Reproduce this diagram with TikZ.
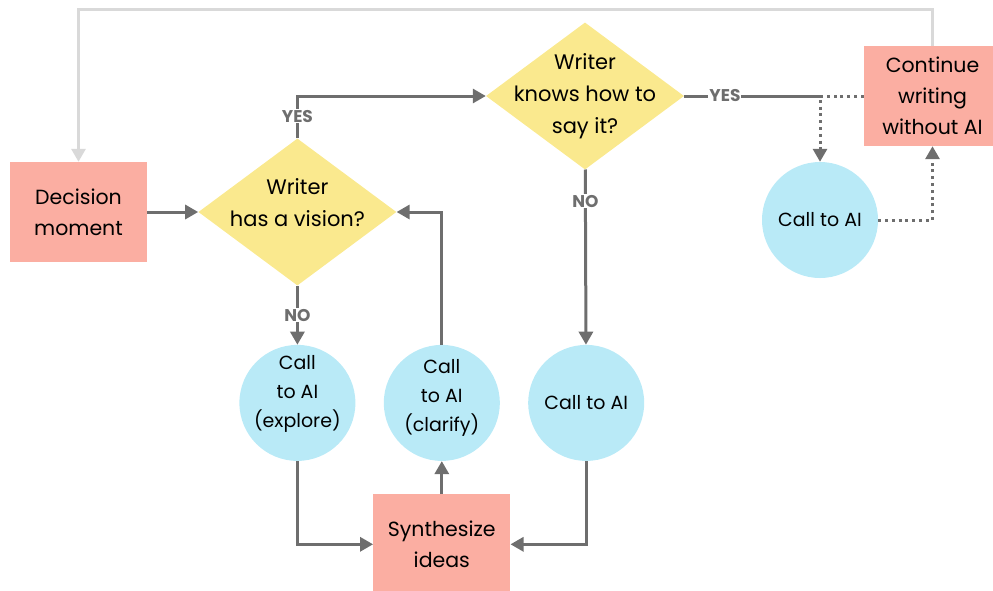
\documentclass[tikz,border=0pt]{standalone}
\usepackage{fontspec}
\setmainfont{Poppins}
\usetikzlibrary{positioning}
\usetikzlibrary{shapes.geometric}
\usetikzlibrary{arrows.meta}

\definecolor{boxred}{HTML}{FBAEA2}
\definecolor{askyellow}{HTML}{FAE98E}
\definecolor{callblue}{HTML}{B9EAF7}
\definecolor{linegray}{HTML}{6E6E6E}
\definecolor{loopgray}{HTML}{D9D9D9}

\begin{document}
\begin{tikzpicture}[node distance=28pt,
			box/.style={rectangle,fill=boxred,align=center,inner sep=0pt,minimum width=137pt,minimum height=100pt,font=\fontsize{20.5}{31}\selectfont},
			ask/.style={diamond,fill=askyellow,align=center,inner sep=-25pt,minimum width=198pt,minimum height=147pt,font=\fontsize{21}{32}\selectfont},
			call/.style={circle,fill=callblue,align=center,inner sep=-6pt,minimum size=116pt,font=\fontsize{19}{29}\selectfont},
			flow/.style={draw=linegray,line width=3pt,-{Triangle[length=13pt,width=14pt]}},
			plain/.style={draw=linegray,line width=3pt},
			maybe/.style={draw=linegray,line width=3pt,dash pattern=on 3pt off 3.8pt,-{Triangle[length=13pt,width=14pt]}},
			back/.style={draw=loopgray,line width=3pt,-{Triangle[length=13pt,width=14pt]}},
			tag/.style={fill=white,inner sep=1pt,text=linegray,font=\fontsize{17}{17}\selectfont\bfseries}]
			\useasboundingbox (0,0) rectangle (993pt,-590pt);
			\node[box] (dec) at (78.5pt,-212pt) {Decision\\moment};
			\node[ask, right=51pt of dec] (vis) {Writer\\has a vision?\\[-14pt]};
			\node[ask] (know) at (585pt,-96pt) {Writer\\knows how to\\say it?};
			\node[box] (cont) at (932.5pt,-96pt) {Continue\\writing\\without AI};
			\node[call, below=59pt of vis] (exp) {Call\\to AI\\(explore)\\[-6pt]};
			\node[call, right=of exp] (clar) {Call\\to AI\\(clarify)\\[-14pt]};
			\node[call, right=of clar] (ask2ai) {Call to AI};
			\node[box, below=33pt of clar] (syn) {Synthesize\\ideas};
			\node[call] (side) at (820pt,-220pt) {Call to AI};
			\coordinate (fork) at (side.north |- know.east);
			\draw[back] (cont.north) -- ++(0,36pt) -| (dec.north);
			\draw[flow] (dec) -- (vis);
			\draw[flow] (vis.north) |- (know.west) node[tag, pos=0.26] {YES};
			\draw[flow] (vis) -- (exp) node[tag, midway] {NO};
			\draw[flow] (exp.south) |- (syn.west);
			\draw[flow] (syn) -- (clar);
			\draw[flow] (clar.north) |- (vis.east);
			\draw[flow] (know) -- (ask2ai) node[tag, pos=0.18] {NO};
			\draw[flow] (ask2ai.south) |- (syn.east);
			\draw[plain] (know.east) -- (fork) node[tag, pos=0.3] {YES};
			\draw[maybe] (cont.west) -| (side);
			\draw[maybe] (side) -| (cont);
		\end{tikzpicture}
\end{document}
